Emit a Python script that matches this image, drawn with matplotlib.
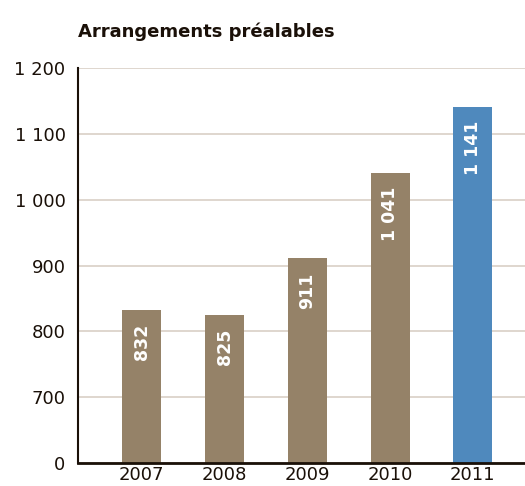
import matplotlib.pyplot as plt

# donnees
annees = ["2007", "2008", "2009", "2010", "2011"]
valeurs = [832, 825, 911, 1041, 1141]
couleurs = ["#958268", "#958268", "#958268", "#958268", "#4f89bd"]
yticks = [600, 700, 800, 900, 1000, 1100, 1200]
ylabels = ["0", "700", "800", "900", "1 000", "1 100", "1 200"]


def fmt(v):
    return "{:,}".format(v).replace(",", " ")


fig = plt.figure(figsize=(5.25, 4.86), dpi=100)
ax = fig.add_axes([0.1486, 0.0473, 0.8514, 0.8127])

x = range(len(annees))
ax.bar(x, valeurs, width=0.47, color=couleurs, zorder=3)
for i, v in enumerate(valeurs):
    ax.annotate(fmt(v), xy=(i, v), xytext=(0, -10), textcoords="offset points",
                rotation=90, ha="center", va="top", color="white",
                fontsize=12.5, fontweight="bold", zorder=4)

ax.set_ylim(600, 1200)
ax.set_xlim(-0.77, 4.63)
ax.set_yticks(yticks)
ax.set_yticklabels(ylabels)
ax.set_xticks(list(x))
ax.set_xticklabels(annees)
ax.tick_params(axis="both", length=0, labelsize=13, colors="#1a1008")
ax.tick_params(axis="y", pad=9)
ax.tick_params(axis="x", pad=2)
ax.grid(axis="y", color="#dcd3ca", linewidth=1.3, zorder=0)

for s in ["top", "right"]:
    ax.spines[s].set_visible(False)
ax.spines["left"].set_color("#1a1008")
ax.spines["left"].set_linewidth(1.5)
ax.spines["bottom"].set_color("#1a1008")
ax.spines["bottom"].set_linewidth(2)
ax.spines["bottom"].set_zorder(5)

fig.text(0.1486, 0.935, "Arrangements préalables", fontsize=13,
         fontweight="bold", color="#1a1008", ha="left", va="center")

plt.savefig("out.png")
